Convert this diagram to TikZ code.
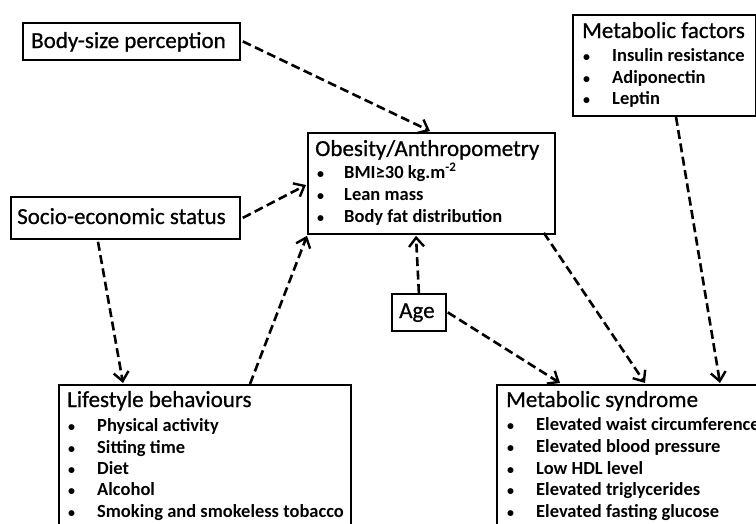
\documentclass[tikz,border=0pt]{standalone}
\usepackage{fontspec}
\setmainfont{Carlito}
\newfontfamily\ttlfont[FakeBold=0.7]{Carlito}
\usetikzlibrary{arrows.meta,calc}
\tikzset{
  box/.style={draw, line width=1.8pt, inner sep=0pt, anchor=north west},
  ttl/.style={anchor=base west, inner sep=0pt, font=\ttlfont\fontsize{23}{25}\selectfont},
  itm/.style={anchor=base west, inner sep=0pt, font=\fontsize{18.5}{20}\selectfont\bfseries},
  bul/.style={anchor=base west, inner sep=0pt, font=\fontsize{14}{16}\selectfont\bfseries},
  link/.style={line width=2.6pt, dash pattern=on 9pt off 4.5pt, -{Straight Barb[length=9pt,width=15pt,line width=2.4pt]}},
}
\begin{document}
\begin{tikzpicture}[x=1pt,y=-1pt]
\useasboundingbox[fill=white] (0,0) rectangle (756,523);
% boxes
\node[box, minimum width=217pt, minimum height=37pt] (bsp) at (22,22) {};
\node[box, minimum width=229pt, minimum height=42pt] (ses) at (10,196) {};
\node[box, minimum width=247pt, minimum height=101pt] (obes) at (307,132) {};
\node[box, minimum width=183pt, minimum height=101pt] (mf) at (572,14) {};
\node[box, minimum width=54pt, minimum height=37pt] (age) at (391,293) {};
\node[box, minimum width=292pt, minimum height=160pt] (life) at (58,384) {};
\node[box, minimum width=280pt, minimum height=160pt] (ms) at (496,384) {};
% texts
\node[ttl] (t1) at (31,48) {Body-size perception};
\node[ttl] (t2) at (17,224) {Socio-economic status};
\node[ttl] (t3) at (399,318) {Age};
\node[ttl] (t4) at (315,156) {Obesity/Anthropometry};
\node[bul] (b41) at (317,178) {•}; \node[itm] (i41) at (344,178) {BMI≥30 kg.m\textsuperscript{-2}};
\node[bul] (b42) at (317,200) {•}; \node[itm] (i42) at (344,200) {Lean mass};
\node[bul] (b43) at (317,222) {•}; \node[itm] (i43) at (344,222) {Body fat distribution};
\node[ttl] (t5) at (582,38) {Metabolic factors};
\node[bul] (b51) at (583,61) {•}; \node[itm] (i51) at (612,61) {Insulin resistance};
\node[bul] (b52) at (583,83) {•}; \node[itm] (i52) at (612,83) {Adiponectin};
\node[bul] (b53) at (583,104) {•}; \node[itm] (i53) at (612,104) {Leptin};
\node[ttl] (t6) at (67,407) {Lifestyle behaviours};
\node[bul] (b61) at (68,431) {•}; \node[itm] (i61) at (97,431) {Physical activity};
\node[bul] (b62) at (68,453) {•}; \node[itm] (i62) at (97,453) {Sitting time};
\node[bul] (b63) at (68,474) {•}; \node[itm] (i63) at (97,474) {Diet};
\node[bul] (b64) at (68,495) {•}; \node[itm] (i64) at (97,495) {Alcohol};
\node[bul] (b65) at (68,517) {•}; \node[itm] (i65) at (97,517) {Smoking and smokeless tobacco};
\node[ttl] (t7) at (506,407) {Metabolic syndrome};
\node[bul] (b71) at (507,430) {•}; \node[itm] (i71) at (536,430) {Elevated waist circumference};
\node[bul] (b72) at (507,452) {•}; \node[itm] (i72) at (536,452) {Elevated blood pressure};
\node[bul] (b73) at (507,474) {•}; \node[itm] (i73) at (536,474) {Low HDL level};
\node[bul] (b74) at (507,495) {•}; \node[itm] (i74) at (536,495) {Elevated triglycerides};
\node[bul] (b75) at (507,517) {•}; \node[itm] (i75) at (536,517) {Elevated fasting glucose};
% connectors
\draw[link] ($(bsp.east)+(2,0)$) -- ($(obes.north west)+(123,-1)$);
\draw[link] ($(ses.east)+(2,0)$) -- ($(obes.north west)+(-1,53)$);
\draw[link] ($(ses.south west)+(88,2)$) -- ($(life.north west)+(65,-1)$);
\draw[link] ($(life.north west)+(192,0)$) -- ($(obes.south west)+(0,1)$);
\draw[link] (age.north) -- ($(obes.south west)+(109,1)$);
\draw[link] ($(age.east)+(1,0)$) -- ($(ms.north west)+(64,-1)$);
\draw[link] ($(obes.south east)+(-12,-2)$) -- ($(ms.north west)+(149,-1)$);
\draw[link] ($(mf.south west)+(104,0)$) -- ($(ms.north west)+(224,-1)$);
\end{tikzpicture}
\end{document}
